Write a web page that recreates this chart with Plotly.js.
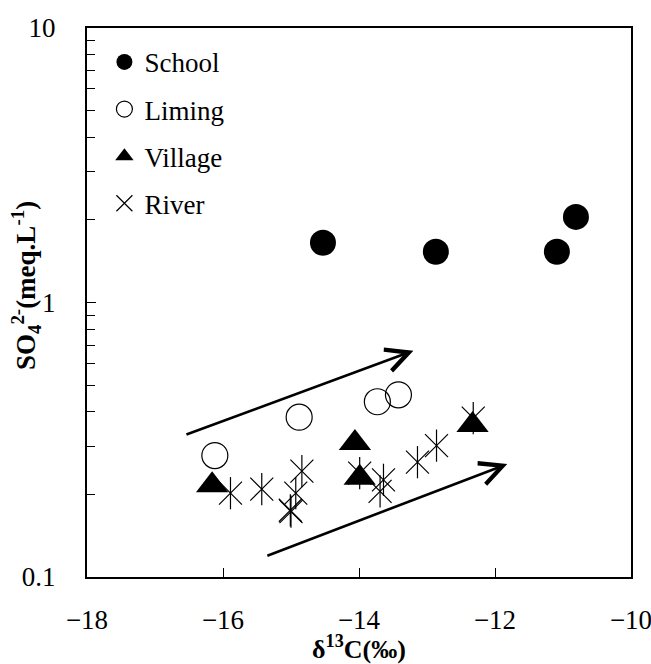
<!DOCTYPE html>
<html>
<head>
<meta charset="utf-8">
<script src="https://cdn.plot.ly/plotly-3.0.1.min.js"></script>
<style>html,body{margin:0;padding:0;background:#fff}#chart{width:651px;height:664px}</style>
</head>
<body>
<div id="chart"></div>
<script>
// ---- data ----
var schoolX  = [-14.53, -12.87, -11.09, -10.81];
var schoolY  = [1.65, 1.53, 1.53, 2.05];
var limingX  = [-16.12, -14.88, -13.73, -13.42];
var limingY  = [0.277, 0.382, 0.435, 0.461];
var villageX = [-16.16, -14.06, -13.99, -12.33];
var villageY = [0.216, 0.308, 0.230, 0.358];
var riverX   = [-15.89, -15.43, -14.84, -14.93, -15.01, -15.00, -13.99, -13.64, -13.69, -13.14, -12.86, -12.32];
var riverY   = [0.202, 0.209, 0.243, 0.202, 0.175, 0.173, 0.239, 0.226, 0.205, 0.262, 0.301, 0.379];
// arrows: [tailX, tailY, headX, headY]
var arrowUpper = [-16.56, 0.329, -13.20, 0.667];
var arrowLower = [-15.37, 0.119, -11.82, 0.258];
var xTickVals = [-18, -16, -14, -12, -10];
var yTickVals = [0.1, 1, 10];
var yTickText = ['0.1', '1', '10'];

var serif = '"Liberation Serif", "Times New Roman", serif';

var traces = [
  {x: riverX, y: riverY, mode: 'markers', type: 'scatter', name: 'River', legendgroup: 'r', legendrank: 4,
   marker: {symbol: 'x-thin-open', size: 23, color: '#000', line: {width: 1.2, color: '#000'}}},
  {x: riverX, y: riverY, mode: 'markers', type: 'scatter', name: 'River', legendgroup: 'r', showlegend: false,
   marker: {symbol: 'line-ns-open', size: 23, color: '#000', line: {width: 1.2, color: '#000'}}},
  {x: schoolX, y: schoolY, mode: 'markers', type: 'scatter', name: 'School', legendgroup: 's', legendrank: 1,
   marker: {symbol: 'circle', size: 26, color: '#000'}},
  {x: limingX, y: limingY, mode: 'markers', type: 'scatter', name: 'Liming', legendgroup: 'l', legendrank: 2,
   marker: {symbol: 'circle-open', size: 26, color: '#000', line: {width: 1.2, color: '#000'}}},
  {x: villageX, y: villageY, mode: 'markers', type: 'scatter', name: 'Village', legendgroup: 'v', legendrank: 3,
   marker: {symbol: 'triangle-up', size: 28, color: '#000'}}
];

function arrow(a) {
  return {x: a[2], y: Math.log10(a[3]), ax: a[0], ay: Math.log10(a[1]),
    xref: 'x', yref: 'y', axref: 'x', ayref: 'y', text: '', showarrow: true,
    arrowhead: 5, arrowsize: 1.7, arrowwidth: 2.6, arrowcolor: '#000'};
}

var layout = {
  width: 651, height: 664,
  margin: {l: 87, r: 20, t: 28, b: 87},
  paper_bgcolor: '#fff', plot_bgcolor: '#fff',
  font: {family: serif, color: '#000', size: 26},
  showlegend: true,
  legend: {x: 0.032, y: 0.982, xanchor: 'left', yanchor: 'top', bgcolor: 'rgba(0,0,0,0)',
    font: {family: serif, size: 27, color: '#000'}, traceorder: 'grouped', tracegroupgap: 9, itemsizing: 'trace'},
  xaxis: {range: [-18, -10], tickvals: xTickVals, ticks: 'inside', ticklen: 9, tickwidth: 1, tickcolor: '#000',
    showline: true, linecolor: '#000', linewidth: 2, mirror: true, showgrid: false, zeroline: false,
    ticklabelstandoff: 18, ticklabeloverflow: 'allow', tickfont: {family: serif, size: 27},
    title: {text: '<b>δ<sup>13</sup>C(‰)</b>', font: {family: serif, size: 26}, standoff: 1}},
  yaxis: {type: 'log', range: [-1, 1], tickvals: yTickVals, ticktext: yTickText, ticks: 'inside', ticklen: 9,
    tickwidth: 1, tickcolor: '#000', showline: true, linecolor: '#000', linewidth: 2, mirror: true,
    showgrid: false, zeroline: false, ticklabelstandoff: 24, ticklabeloverflow: 'allow', tickfont: {family: serif, size: 27},
    minor: {dtick: 'D1', ticks: 'inside', ticklen: 8, tickwidth: 1, tickcolor: '#000', showgrid: false}},
  annotations: [
    arrow(arrowUpper), arrow(arrowLower),
    {xref: 'paper', yref: 'paper', x: -0.112, y: 0.53, xanchor: 'center', yanchor: 'middle', textangle: -90,
     showarrow: false, text: '<b>SO<sub>4</sub><sup>2-</sup>(meq.L<sup>-1</sup>)</b>', font: {family: serif, size: 27, color: '#000'}}
  ]
};

Plotly.newPlot('chart', traces, layout, {displayModeBar: false, staticPlot: true});
</script>
</body>
</html>
